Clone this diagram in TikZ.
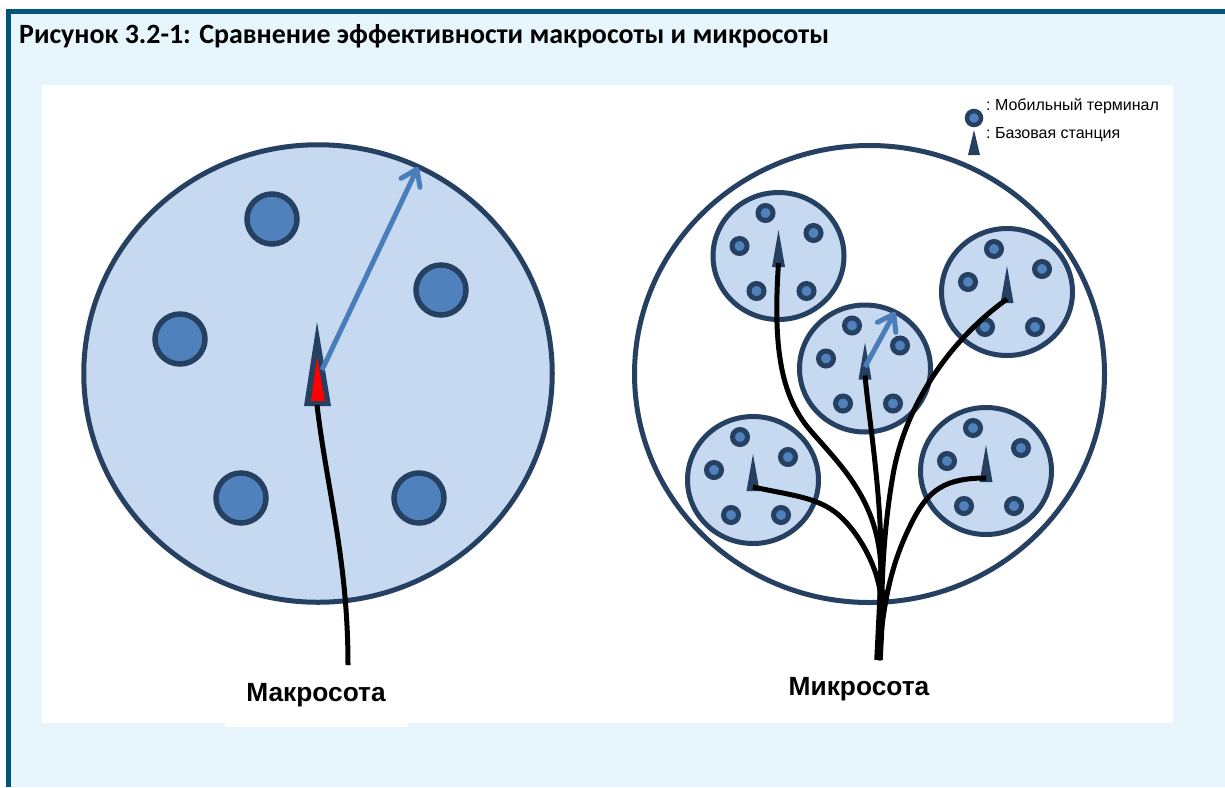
\documentclass[tikz,border=0pt]{standalone}
\usepackage{fontspec}
\setmainfont{Liberation Sans}
\newfontfamily\captionfont{Carlito}
\usepackage{xcolor}
\usetikzlibrary{arrows.meta,shapes.geometric}
\definecolor{frame1}{HTML}{005578}
\definecolor{panel1}{HTML}{E6F6FC}
\definecolor{navy1}{HTML}{254061}
\definecolor{cell1}{HTML}{C6D9F1}
\definecolor{user1}{HTML}{4F81BD}
\definecolor{radius1}{HTML}{4A7EBB}
\tikzset{
  area/.style={ellipse, draw=navy1, line width=5pt, inner sep=0pt},
  bigcell/.style={area, fill=cell1, minimum width=468.5pt, minimum height=457.5pt},
  cell/.style={area, fill=cell1, minimum width=131pt, minimum height=127pt},
  bigterminal/.style={circle, draw=navy1, fill=user1, line width=5.5pt, minimum size=50pt, inner sep=0pt},
  terminal/.style={circle, draw=navy1, fill=user1, line width=5pt, minimum size=15pt, inner sep=0pt},
  fibre/.style={line width=5pt, color=black},
  rangearrow/.style={-{Straight Barb[length=15pt,width=21pt,round]}, line width=5pt, color=radius1},
}
\begin{document}
\begin{tikzpicture}[x=1pt, y=-1pt]
\useasboundingbox (0,0) rectangle (1225,787);
\fill[white] (0,0) rectangle (1225,787);
\fill[frame1] (6,9) rectangle (1225,787);
\fill[panel1] (11,14) rectangle (1225,787);
\fill[white] (42,85) rectangle (1173,723);
\fill[white] (225,723) rectangle (408,727);
\node[anchor=west, inner sep=0pt, font=\captionfont\bfseries\fontsize{27.9}{32}\selectfont] (caption) at (19,36) {Рисунок 3.2-1: Сравнение эффективности макросоты и микросоты};

% macro cell
\node[bigcell] (macro) at (318,373.5) {};
\foreach \name/\cx/\cy in {uA/272/219, uB/441/290, uC/180/339, uD/241/498, uE/419/498}
  \node[bigterminal] (\name) at (\cx,\cy) {};
\fill[navy1] (317,322) -- (331,406) -- (304,406) -- cycle;
\fill[red] (317,357) -- (325,401) -- (311,401) -- cycle;
\coordinate (macrobase) at (317,405);
\coordinate (macroroot) at (348,665);
\coordinate (macrofoot) at (322,370);
\coordinate (macroedge) at (418,167);
\draw[fibre] (macrobase) .. controls (327,490) and (348,560) .. (macroroot);
\draw[rangearrow] (macrofoot) -- (macroedge);

% micro cells
\node[area, fill=white, minimum width=470pt, minimum height=457pt] (micro) at (869.5,374) {};
\foreach \name/\cx/\cy in {cellA/778.5/256, cellB/1007/292, cellC/865/368.5, cellD/753/480, cellE/986/471}{
  \node[cell] (\name) at (\cx,\cy) {};
  \begin{scope}[shift={(\cx,\cy)}]
    \foreach \ux/\uy [count=\i] in {-13/-43, 35/-23, -39/-10, -22/35, 28/35}
      \node[terminal] (\name-u\i) at (\ux,\uy) {};
    \fill[navy1] (0,-26) -- (6.5,11) -- (-6.5,11) -- cycle;
    \coordinate (\name-bs) at (0,7);
  \end{scope}
}
\coordinate (root) at (878.5,660);
\draw[fibre] (cellA-bs) .. controls (773,345) and (780,395) .. (810,430) .. controls (840,465) and (879,500) .. (881,570) -- (root);
\draw[fibre] (cellB-bs) .. controls (950,340) and (905,405) .. (893,475) .. controls (885,520) and (882,570) .. (882,600) -- (root);
\draw[fibre] (cellC-bs) .. controls (869,420) and (881,490) .. (881,560) -- (root);
\draw[fibre] (cellD-bs) .. controls (790,495) and (815,497) .. (835,512) .. controls (855,527) and (879,565) .. (881,600) -- (root);
\draw[fibre] (cellE-bs) .. controls (945,478) and (928,490) .. (912,522) .. controls (895,556) and (884,590) .. (root);
\coordinate (trunk) at (882,590);
\draw[line width=8.5pt] (trunk) -- (root);
\coordinate (cellfoot) at (865,367);
\coordinate (celledge) at (895,312);
\draw[rangearrow] (cellfoot) -- (celledge);

% legend
\node[terminal, line width=4.5pt, minimum size=14pt] (legendu) at (974,118) {};
\fill[navy1] (974,130) -- (980,155) -- (968,155) -- cycle;
\node[anchor=west, inner sep=0pt, font=\fontsize{16}{18}\selectfont] (legendterminal) at (986,106.5) {:\hspace{-1.5pt} Мобильный терминал};
\node[anchor=west, inner sep=0pt, font=\fontsize{16}{18}\selectfont] (legendstation) at (986,135) {:\hspace{-1.5pt} Базовая станция};

\node[font=\bfseries\fontsize{26.3}{30}\selectfont, inner sep=0pt] (macrolabel) at (316,695) {Макросота};
\node[font=\bfseries\fontsize{26.3}{30}\selectfont, inner sep=0pt] (microlabel) at (859,689) {Микросота};
\end{tikzpicture}
\end{document}
